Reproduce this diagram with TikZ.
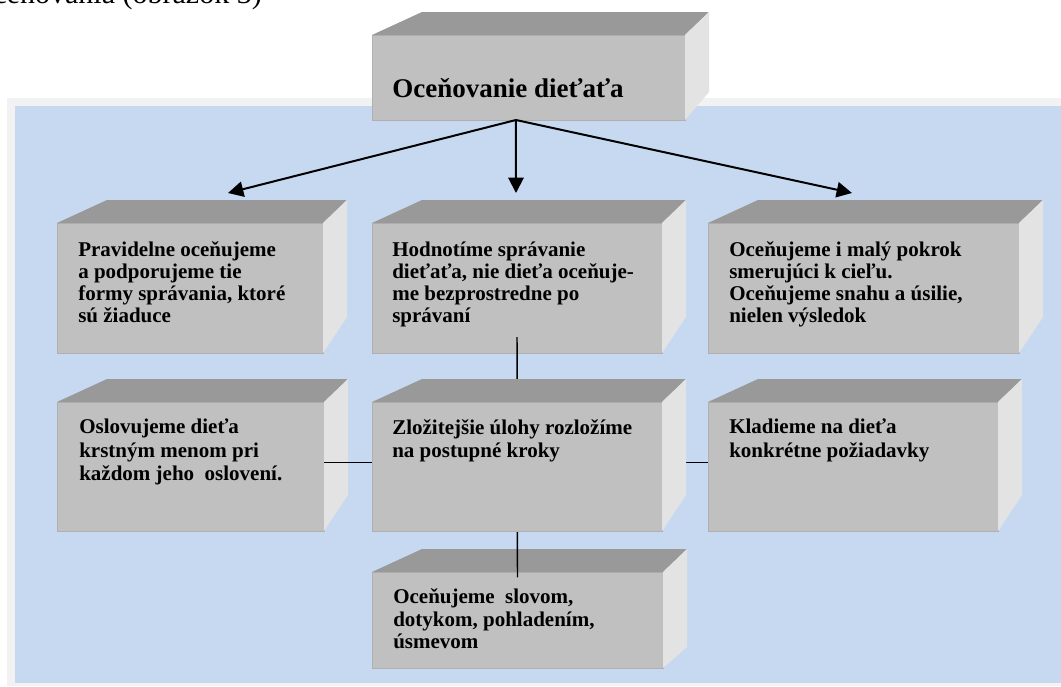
\documentclass[tikz,border=0pt]{standalone}
\usepackage{fontspec}
\setmainfont{Liberation Serif}
\usetikzlibrary{arrows.meta,calc}

\definecolor{bgblue}{HTML}{C6D9F1}
\definecolor{framegray}{HTML}{F2F2F2}
\definecolor{facefront}{HTML}{C0C0C0}
\definecolor{frontedge}{HTML}{B0B0B0}
\definecolor{facetop}{HTML}{999999}
\definecolor{faceside}{HTML}{E3E3E3}

\newcommand{\boxsides}[2]{%
  \fill[facetop] (#1.north west) -- ++(50,-23) -- ([shift={(24,-23)}]#1.north east) -- (#1.north east) -- cycle;
  \fill[faceside] (#1.north east) -- ++(24,-23) -- ([shift={(24,#2)}]#1.south east) -- (#1.south east) -- cycle;}

\begin{document}
\begin{tikzpicture}[x=0.75pt, y=-0.75pt,
    face/.style 2 args={draw=frontedge, line width=0.75pt, fill=facefront, anchor=north west,
      inner sep=0pt, outer sep=0pt, minimum width=#1*0.75pt, minimum height=#2*0.75pt},
    boxtext/.style={anchor=north west, align=left, inner sep=0pt,
      font=\fontsize{15.75pt}{16.5pt}\selectfont\bfseries, execute at begin node=\strut},
    arrow/.style={line width=1.5pt, -{Triangle[length=11.5pt,width=11.5pt]}},
    link/.style={line width=1.1pt}]
    \useasboundingbox (0,0) rectangle (1061,686);
    \node [anchor=base east, inner sep=0pt, font=\fontsize{22.5pt}{27pt}\selectfont] (caption) at (262,3) {oceňovania (obrázok 3)};
    \fill[framegray] (7,98) rectangle (1061,686);
    \fill[bgblue] (15,106) rectangle (1061,683);

    \node [face={313}{85}] (title) at (372,35) {};
    \boxsides{title}{-28}
    \node [boxtext, font=\fontsize{20.25pt}{24pt}\selectfont\bfseries] (title-txt) at ([shift={(20,39.6)}]title.north west) {Oceňovanie dieťaťa};

    \node [face={266}{130}] (regular) at (57,223) {};
    \boxsides{regular}{-36}
    \node [face={290}{130}] (behaviour) at (372,223) {};
    \boxsides{behaviour}{-36}
    \node [face={311}{130}] (progress) at (708,223) {};
    \boxsides{progress}{-36}
    \node [face={267}{129}] (name) at (57,402) {};
    \boxsides{name}{-36}
    \node [face={290}{129}] (demands) at (708,402) {};
    \boxsides{demands}{-36}
    \node [face={291}{96}] (ways) at (372,572) {};
    \boxsides{ways}{-21}

    \coordinate (tip-regular) at (228,193);
    \coordinate (tip-behaviour) at (516,193);
    \coordinate (tip-progress) at (852,193);
    \draw [arrow] ([xshift=-9.4pt]title.south) to (tip-regular);
    \draw [arrow] ([xshift=-9.4pt]title.south) to (tip-behaviour);
    \draw [arrow] ([xshift=-9.4pt]title.south) to (tip-progress);
    \draw [link] ([yshift=12pt]behaviour.south) to ([yshift=-4pt]ways.north);
    \draw [link] ([yshift=3pt]name.east) to ([yshift=3pt]demands.west);

    \node [face={290}{129}] (steps) at (372,402) {};
    \boxsides{steps}{-36}

    \node [boxtext] (regular-txt) at ([shift={(21,18.5)}]regular.north west) {Pravidelne oceňujeme\\a podporujeme tie\\formy správania, ktoré\\sú žiaduce};
    \node [boxtext] (behaviour-txt) at ([shift={(20,18.5)}]behaviour.north west) {Hodnotíme správanie\\dieťaťa, nie dieťa oceňuje-\\me bezprostredne po\\správaní};
    \node [boxtext] (progress-txt) at ([shift={(21,18.5)}]progress.north west) {Oceňujeme i malý pokrok\\smerujúci k cieľu.\\Oceňujeme snahu a úsilie,\\nielen výsledok};
    \node [boxtext, font=\fontsize{15.75pt}{17.6pt}\selectfont\bfseries] (name-txt) at ([shift={(22,17)}]name.north west) {Oslovujeme dieťa\\krstným menom pri\\každom jeho\ \ oslovení.};
    \node [boxtext, font=\fontsize{15.75pt}{17.6pt}\selectfont\bfseries] (steps-txt) at ([shift={(20,17)}]steps.north west) {Zložitejšie úlohy rozložíme\\na postupné kroky};
    \node [boxtext, font=\fontsize{15.75pt}{17.6pt}\selectfont\bfseries] (demands-txt) at ([shift={(21,17)}]demands.north west) {Kladieme na dieťa\\konkrétne požiadavky};
    \node [boxtext, font=\fontsize{15.75pt}{17pt}\selectfont\bfseries] (ways-txt) at ([shift={(21,16.5)}]ways.north west) {Oceňujeme\ \ slovom,\\dotykom, pohladením,\\úsmevom};
  \end{tikzpicture}
\end{document}
